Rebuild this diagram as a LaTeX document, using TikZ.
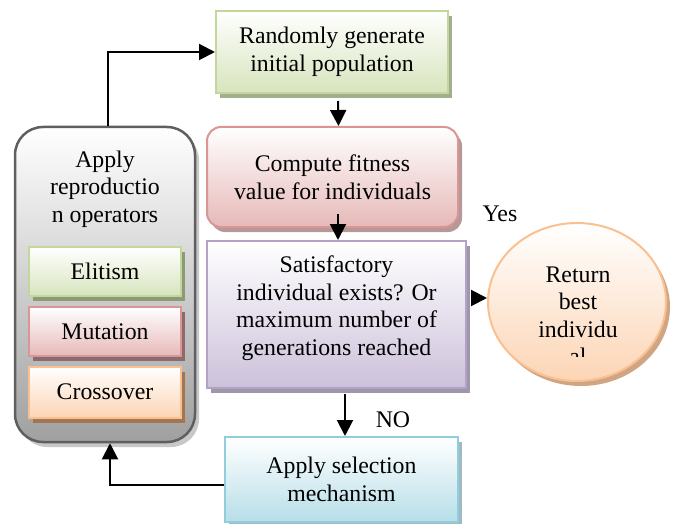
\documentclass[tikz,border=0pt]{standalone}
\usepackage{fontspec}
\setmainfont{Liberation Serif}
\usetikzlibrary{shadows,arrows.meta,calc,shapes.geometric}
\definecolor{grnB}{HTML}{C3D69B}\definecolor{grnF}{HTML}{D7E4BD}\definecolor{grnS}{HTML}{A2AF8E}
\definecolor{redB}{HTML}{D99694}\definecolor{redF}{HTML}{E6B9B8}\definecolor{redS}{HTML}{B59898}
\definecolor{purB}{HTML}{B3A2C7}\definecolor{purF}{HTML}{CCC1DA}\definecolor{purS}{HTML}{9D97A8}
\definecolor{oraB}{HTML}{FAC090}\definecolor{oraF}{HTML}{FCD5B5}\definecolor{oraS}{HTML}{D0A584}
\definecolor{bluB}{HTML}{92CDDC}\definecolor{bluF}{HTML}{B7DEE8}\definecolor{bluS}{HTML}{9EBAC2}
\definecolor{conB}{HTML}{5F5F5F}\definecolor{conF}{HTML}{A0A0A0}\definecolor{conS}{HTML}{C8C8C8}
\definecolor{eliS}{HTML}{8E9A76}\definecolor{mutS}{HTML}{8B6B6B}\definecolor{croS}{HTML}{A27653}
\begin{document}
\begin{tikzpicture}[x=1pt,y=-1pt,
  txt/.style={font=\fontsize{23.8}{27.5}\selectfont, align=center, inner sep=0pt},
  shbox/.style n args={3}{draw=#1, line width=2pt, top color=white, bottom color=#2,
     drop shadow={shadow xshift=4pt, shadow yshift=-5pt, fill=#3, opacity=1},
     font=\fontsize{23.8}{27.5}\selectfont, align=center, inner sep=0pt},
  arr/.style={line width=2pt, -{Triangle[length=16pt,width=16pt]}}]
\useasboundingbox (0,0) rectangle (675,524);

% left container
\node[draw=conB, line width=2.5pt, rounded corners=28pt, top color=white, bottom color=conF,
      drop shadow={shadow xshift=4pt, shadow yshift=-5pt, fill=conS, opacity=1},
      minimum width=180, minimum height=315] (cont) at (105,284.5) {};
\node[txt] (conttxt) at (105,189) {Apply\\reproductio\\n operators};
\node[shbox={grnB}{grnF}{eliS}, minimum width=152, minimum height=49] (eli) at (105,271.5) {Elitism};
\node[shbox={redB}{redF}{mutS}, minimum width=152, minimum height=49] (mut) at (105,331.5) {Mutation};
\node[shbox={oraB}{oraF}{croS}, minimum width=152, minimum height=51] (cro) at (105,392) {Crossover};

% main column
\node[shbox={grnB}{grnF}{grnS}, minimum width=232, minimum height=82] (green) at (332,52)
  {Randomly generate\\initial population};
\node[shbox={redB}{redF}{redS}, rounded corners=14pt, minimum width=251, minimum height=100] (red) at (332.5,177)
  {Compute fitness\\value for individuals};
\node[shbox={purB}{purF}{purS}, minimum width=259, minimum height=147] (purple) at (336.5,314.5) {};
\node[txt] (purtxt) at (336.5,308) {Satisfactory\\individual exists? Or\\maximum number of\\generations reached};
\node[shbox={bluB}{bluF}{bluS}, minimum width=233, minimum height=85] (sel) at (341.5,479.5)
  {Apply selection\\mechanism};

% ellipse
\node[shbox={oraB}{oraF}{oraS}, ellipse, minimum width=178, minimum height=158] (ret) at (577,302) {};
\begin{scope}
  \clip (480,200) rectangle (675,356);
  \node[txt] (rettxt) at (578,316) {Return\\best\\individu\\al};
\end{scope}

% labels
\node[txt, anchor=base] (yes) at (500,222) {Yes};
\node[txt, anchor=base] (no) at (393,427) {NO};

% arrows
\draw[arr] ([xshift=6pt,yshift=-7pt]green.south) -- ([xshift=6pt]red.north);
\draw[arr] ([xshift=5.5pt,yshift=14pt]red.south) -- ([xshift=1.5pt]purple.north);
\draw[arr] ([xshift=4pt,yshift=4pt]purple.east |- ret.west) -- ([yshift=4pt]ret.west);
\draw[arr] ([xshift=8.5pt,yshift=-5pt]purple.south) -- ([xshift=3.5pt]sel.north);
\draw[arr] ([yshift=-5.5pt]sel.west) -| ([xshift=5pt]cont.south);
\draw[arr] ([xshift=3pt]cont.north) |- (green.west);
\end{tikzpicture}
\end{document}
